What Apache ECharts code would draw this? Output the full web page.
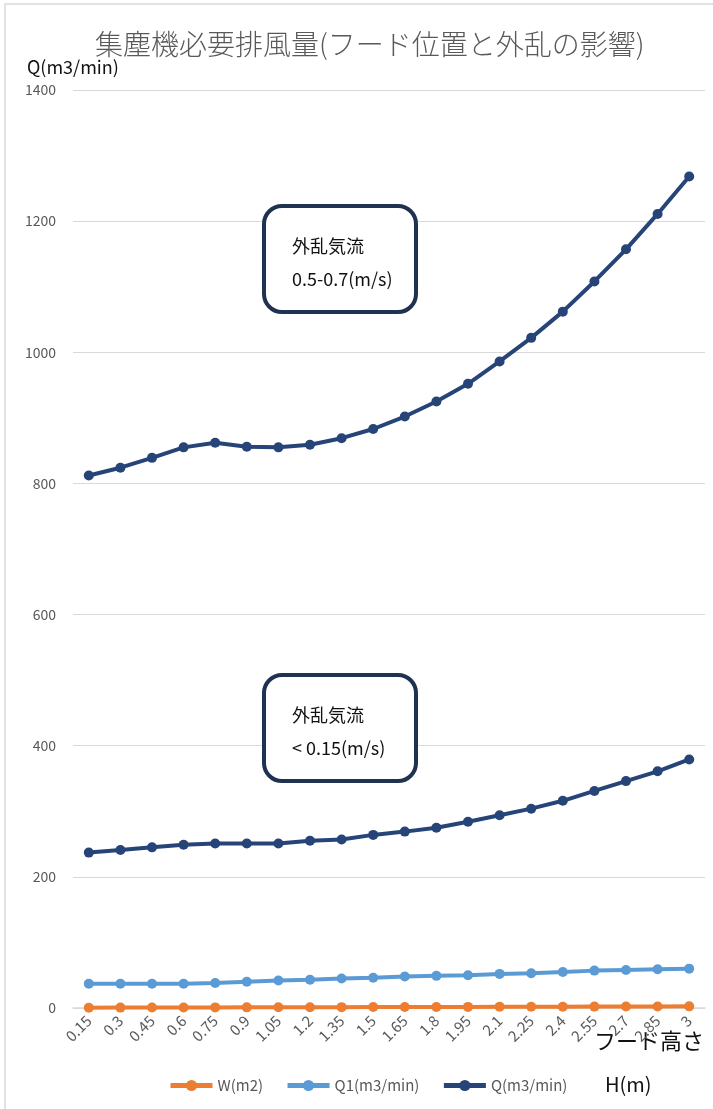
<!DOCTYPE html>
<html>
<head>
<meta charset="utf-8">
<script src="https://cdn.jsdelivr.net/npm/echarts@6/dist/echarts.min.js"></script>
<style>
  html, body { margin: 0; padding: 0; background: #fff; }
  #chart { width: 713px; height: 1109px; }
</style>
</head>
<body>
<div id="chart"></div>
<script>
// フード高さ H(m)
const heights = ['0.15', '0.3', '0.45', '0.6', '0.75', '0.9', '1.05', '1.2', '1.35', '1.5',
  '1.65', '1.8', '1.95', '2.1', '2.25', '2.4', '2.55', '2.7', '2.85', '3'];
// W(m2)
const wValues = [0.5, 0.6, 0.7, 0.8, 0.9, 1.0, 1.1, 1.2, 1.3, 1.4,
  1.5, 1.6, 1.7, 1.8, 1.9, 2.0, 2.1, 2.2, 2.3, 2.5];
// Q1(m3/min)
const q1Values = [37, 37, 37, 37, 38, 40, 42, 43, 45, 46,
  48, 49, 50, 52, 53, 55, 57, 58, 59, 60];
// Q(m3/min) 外乱気流 < 0.15(m/s)
const qLow = [237, 241, 245, 249, 251, 251, 251, 255, 257, 264,
  269, 275, 284, 294, 304, 316, 331, 346, 361, 379];
// Q(m3/min) 外乱気流 0.5-0.7(m/s)
const qHigh = [812, 824, 839, 855, 862, 856, 855, 859, 869, 883,
  902, 925, 952, 986, 1022, 1062, 1108, 1157, 1211, 1268];
const yTicks = { min: 0, max: 1400, step: 200 };

const FONT = '"Noto Sans CJK JP", "Noto Sans", sans-serif';
const NAVY = '#264478';

function lineSeries(name, data, color) {
    return {
        name: name,
        type: 'line',
        data: data,
        symbol: 'circle',
        symbolSize: 10,
        lineStyle: { width: 4, color: color },
        itemStyle: { color: color },
        z: 3
    };
}

// 注釈ボックス
function noteBox(top, line1, line2) {
    return [
        {
            type: 'rect',
            shape: { x: 264, y: top, width: 152, height: 106, r: 18 },
            style: { fill: '#fff', stroke: '#1f3350', lineWidth: 4 },
            z: 10
        },
        {
            type: 'text',
            style: { x: 292, y: top + 40, text: line1, font: '18px ' + FONT, fill: '#111', textVerticalAlign: 'middle' },
            z: 11
        },
        {
            type: 'text',
            style: { x: 292, y: top + 73, text: line2, font: '18px ' + FONT, fill: '#111', textVerticalAlign: 'middle' },
            z: 11
        }
    ];
}

const chart = echarts.init(document.getElementById('chart'));
chart.setOption({
    backgroundColor: '#fff',
    animation: false,
    textStyle: { fontFamily: FONT },
    title: {
        text: '集塵機必要排風量(フード位置と外乱の影響)',
        left: 90,
        top: 25,
        textStyle: { fontSize: 28, fontWeight: 300, color: '#595959', fontFamily: FONT }
    },
    grid: { left: 73, right: 8, top: 90, bottom: 101 },
    legend: {
        left: 163,
        top: 1073,
        itemWidth: 42,
        itemHeight: 14,
        itemGap: 22,
        lineStyle: { width: 5 },
        textStyle: { fontSize: 15, color: '#595959' },
        data: ['W(m2)', 'Q1(m3/min)', 'Q(m3/min)']
    },
    xAxis: {
        type: 'category',
        data: heights,
        boundaryGap: true,
        axisLine: { lineStyle: { color: '#d9d9d9', width: 1.5 } },
        axisTick: { show: false },
        axisLabel: { rotate: 45, color: '#595959', fontSize: 15, margin: 10, interval: 0 }
    },
    yAxis: {
        type: 'value',
        min: yTicks.min,
        max: yTicks.max,
        interval: yTicks.step,
        axisLine: { show: false },
        axisTick: { show: false },
        axisLabel: { color: '#595959', fontSize: 14, margin: 17, formatter: function (v) { return String(v); } },
        splitLine: { lineStyle: { color: '#d9d9d9', width: 1.2 } }
    },
    series: [
        lineSeries('W(m2)', wValues, '#ED7D31'),
        lineSeries('Q1(m3/min)', q1Values, '#5B9BD5'),
        lineSeries('Q(m3/min)', qLow, NAVY),
        lineSeries('Q(m3/min)', qHigh, NAVY)
    ],
    graphic: [
        {
            type: 'rect',
            shape: { x: 5, y: 4, width: 800, height: 1200 },
            style: { fill: 'none', stroke: '#d9d9d9', lineWidth: 1.5 },
            silent: true
        },
        {
            type: 'text',
            style: { x: 27, y: 67, text: 'Q(m3/min)', font: '18px ' + FONT, fill: '#111', textVerticalAlign: 'middle' }
        },
        {
            type: 'text',
            style: { x: 594, y: 1041, text: 'フード高さ', font: '22px ' + FONT, fill: '#111', textVerticalAlign: 'middle' }
        },
        {
            type: 'text',
            style: { x: 605, y: 1084, text: 'H(m)', font: '20px ' + FONT, fill: '#111', textVerticalAlign: 'middle' }
        }
    ].concat(noteBox(206, '外乱気流', '0.5-0.7(m/s)'), noteBox(675, '外乱気流', '< 0.15(m/s)'))
});
</script>
</body>
</html>
